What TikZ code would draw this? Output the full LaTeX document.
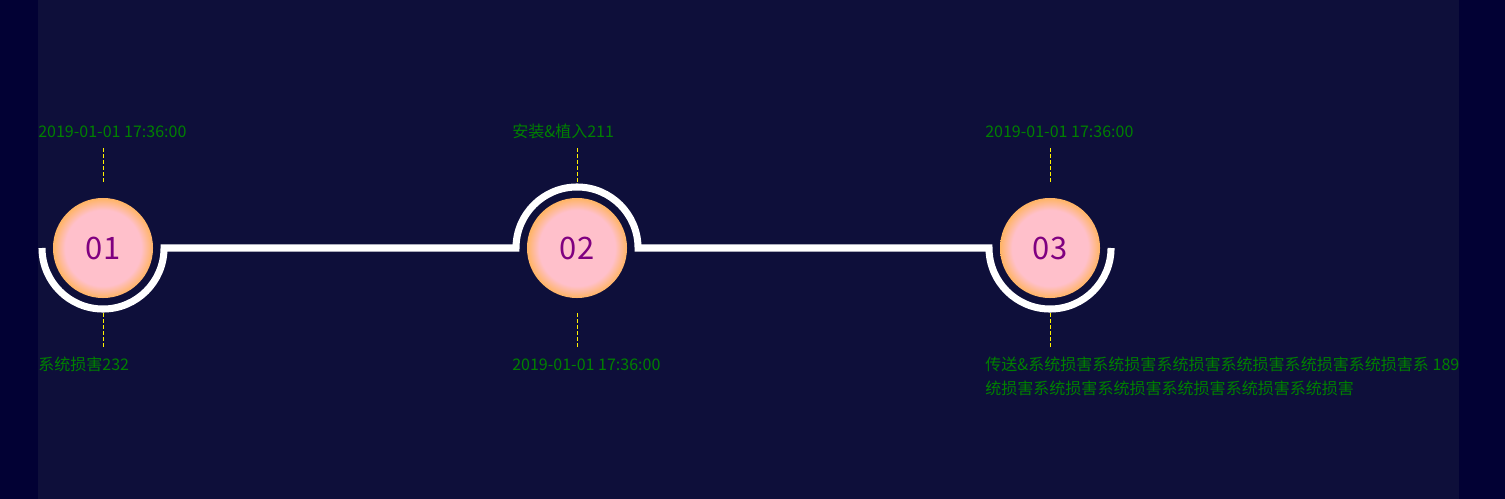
\documentclass[tikz,border=0pt]{standalone}
\usepackage{fontspec}
\setmainfont{Noto Sans CJK SC}
\usetikzlibrary{calc}
\definecolor{outerbg}{RGB}{2,1,52}
\definecolor{panelbg}{RGB}{14,15,58}
\definecolor{notegreen}{RGB}{0,128,0}
\definecolor{numpurple}{RGB}{128,0,128}
\definecolor{ballpink}{RGB}{255,192,203}
\definecolor{ballorange}{RGB}{255,180,100}
\pgfdeclareradialshading{pinkball}{\pgfpoint{0bp}{0bp}}{color(0bp)=(ballpink); color(19bp)=(ballpink); color(25bp)=(ballorange); color(50bp)=(ballorange)}

\begin{document}
\begin{tikzpicture}[x=0.025cm,y=-0.025cm,
    ball/.style={circle,minimum size=2.5cm,inner sep=0pt,shading=pinkball,text=numpurple,font=\fontsize{22}{26}\selectfont},
    track/.style={draw=white,line width=5pt},
    tick/.style={draw=yellow,line width=0.7pt,dash pattern=on 2.8pt off 1.4pt},
    note/.style={anchor=base west,inner sep=0pt,text=notegreen,align=left,font=\fontsize{11.4}{17}\selectfont}
  ]
    % background and panel
    \fill[outerbg] (0,0) rectangle (1505,499);
    \fill[panelbg] (38,0) rectangle (1459,499);

    % the three steps
    \node[ball] (c1) at (103,248) {01};
    \node[ball] (c2) at (577,248) {02};
    \node[ball] (c3) at (1050,248) {03};

    % track with half rings round the steps
    \draw[track] ($(c1)+(-61,0)$) arc[start angle=180,end angle=360,radius=1.525cm]
      -- ($(c2)+(-61,0)$) arc[start angle=180,end angle=0,radius=1.525cm]
      -- ($(c3)+(-61,0)$) arc[start angle=180,end angle=360,radius=1.525cm];

    % texts above
    \node[note] (t1) at ($(c1)+(-65,-111)$) {2019-01-01 17:36:00};
    \node[note] (t2) at ($(c2)+(-65,-111)$) {安装\&植入211};
    \node[note] (t3) at ($(c3)+(-65,-111)$) {2019-01-01 17:36:00};

    % texts below (two lines: base is the last line)
    \node[note] (b1) at ($(c1)+(-65,122)$) {系统损害232};
    \node[note] (b2) at ($(c2)+(-65,122)$) {2019-01-01 17:36:00};
    \node[note] (b3) at ($(c3)+(-65,146)$) {传送\&系统损害系统损害系统损害系统损害系统损害系统损害系 189\\统损害系统损害系统损害系统损害系统损害系统损害};

    % dashed ticks
    \draw[tick] ([yshift=0.4cm]c1.north) -- ([yshift=1.25cm]c1.north);
    \draw[tick] ([yshift=-0.375cm]c1.south) -- ([yshift=-1.225cm]c1.south);
    \draw[tick] ([yshift=0.4cm]c2.north) -- ([yshift=1.25cm]c2.north);
    \draw[tick] ([yshift=-0.375cm]c2.south) -- ([yshift=-1.225cm]c2.south);
    \draw[tick] ([yshift=0.4cm]c3.north) -- ([yshift=1.25cm]c3.north);
    \draw[tick] ([yshift=-0.375cm]c3.south) -- ([yshift=-1.225cm]c3.south);
  \end{tikzpicture}
\end{document}
